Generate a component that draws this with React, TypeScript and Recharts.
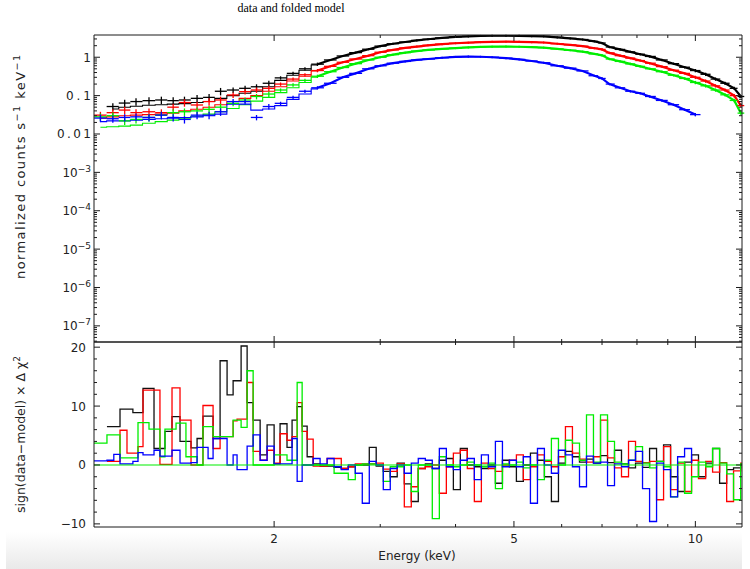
import React from 'react';
import { ComposedChart, Line, Scatter, ErrorBar, XAxis, YAxis, ReferenceLine } from 'recharts';

// ---------- layout ----------
const W = 750;
const H = 569;
const PL = 94;
const PR = 742;
const TOP_T = 35;
const MID = 342;
const BOT_B = 527;
const AXIS = '#1a1a1a';
const FONT = '"DejaVu Sans", "Liberation Sans", Arial, sans-serif';

// ---------- text ----------
const TITLE = 'data and folded model';
const X_LABEL = 'Energy (keV)';

// ---------- axes ----------
const X_DOMAIN = [1.005, 11.95];
const X_TICKS = [2, 3, 4, 5, 6, 7, 8, 9, 10];
const X_LABELED = [2, 5, 10];

const TOP_Y_DOMAIN = [3.8e-8, 3.8];
const TOP_Y_MAJOR = [1e-7, 1e-6, 1e-5, 1e-4, 1e-3, 0.01, 0.1, 1];
const TOP_Y_BASE = ['10', '10', '10', '10', '10', '0.01', '0.1', '1'];
const TOP_Y_EXP = ['\u22127', '\u22126', '\u22125', '\u22124', '\u22123', '', '', ''];
const TOP_Y_LABEL_LEN = [0, 0, 0, 0, 0, 34, 25, 0];

const RES_Y_DOMAIN = [-10.53, 20.88];
const RES_Y_TICKS = [-10, -8, -6, -4, -2, 0, 2, 4, 6, 8, 10, 12, 14, 16, 18, 20];
const RES_Y_MAJOR = [-10, 0, 10, 20];
const RES_Y_LABELS = ['\u221210', '0', '10', '20'];

// ---------- top panel: spectra (bin centres, keV) ----------
const E_TOP = [1.03, 1.08, 1.13, 1.18, 1.24, 1.30, 1.36, 1.42, 1.49, 1.56,
  1.63, 1.71, 1.79, 1.87, 1.96, 2.05, 2.15, 2.25, 2.36, 2.48,
  2.6, 2.73, 2.87, 3.0, 3.15, 3.3, 3.45, 3.6, 3.8, 4.0,
  4.2, 4.4, 4.6, 4.85, 5.1, 5.35, 5.6, 5.9, 6.2, 6.5,
  6.8, 7.0, 7.2, 7.5, 7.8, 8.1, 8.4, 8.8, 9.2, 9.6,
  10.0, 10.4, 10.8, 11.2, 11.6, 11.9];

const REL_ERR = [0.22, 0.22, 0.22, 0.22, 0.22, 0.22, 0.22, 0.22, 0.22, 0.22,
  0.22, 0.16, 0.16, 0.16, 0.16, 0.1, 0.1, 0.1, 0.1, 0.06,
  0.06, 0.06, 0.06, 0.06, 0.06, 0.06, 0.06, 0.06, 0.06, 0.06,
  0.06, 0.06, 0.06, 0.06, 0.06, 0.06, 0.06, 0.06, 0.06, 0.06,
  0.06, 0.07, 0.07, 0.07, 0.07, 0.07, 0.07, 0.07, 0.07, 0.07,
  0.1, 0.1, 0.1, 0.1, 0.1, 0.1];

const BLACK_DATA = [null, 0.052, 0.064, 0.07, 0.074, 0.077, 0.074, 0.077, 0.085, 0.09,
  0.13, 0.14, 0.155, 0.17, 0.21, 0.29, 0.38, 0.5, 0.66, 0.85,
  1.08, 1.32, 1.62, 1.95, 2.25, 2.5, 2.75, 2.95, 3.2, 3.4,
  3.5, 3.6, 3.65, 3.65, 3.62, 3.55, 3.5, 3.3, 3.1, 2.9,
  2.6, 2.35, 1.85, 1.6, 1.38, 1.2, 1.05, 0.85, 0.68, 0.55,
  0.45, 0.36, 0.27, 0.21, 0.155, 0.095];
const RED_DATA = [0.031, 0.036, 0.042, 0.036, 0.038, 0.036, 0.05, 0.066, 0.057, 0.07,
  0.077, 0.104, 0.127, 0.14, 0.155, 0.2, 0.27, 0.35, 0.45, 0.58,
  0.74, 0.9, 1.1, 1.35, 1.55, 1.75, 1.9, 2.05, 2.2, 2.32,
  2.4, 2.48, 2.52, 2.55, 2.52, 2.48, 2.42, 2.25, 2.1, 1.95,
  1.72, 1.6, 1.3, 1.1, 0.95, 0.82, 0.7, 0.57, 0.46, 0.38,
  0.3, 0.24, 0.18, 0.14, 0.1, 0.055];
const GREEN_DATA = [0.028, 0.03, 0.022, 0.024, 0.027, 0.031, 0.036, 0.038, 0.04, 0.044,
  0.05, 0.063, 0.077, 0.095, 0.11, 0.14, 0.19, 0.25, 0.32, 0.42,
  0.54, 0.68, 0.85, 1.0, 1.17, 1.32, 1.45, 1.55, 1.65, 1.73,
  1.8, 1.86, 1.89, 1.9, 1.88, 1.84, 1.78, 1.65, 1.52, 1.4,
  1.22, 1.12, 0.9, 0.78, 0.67, 0.58, 0.5, 0.42, 0.34, 0.28,
  0.22, 0.18, 0.14, 0.105, 0.075, 0.035];
const BLUE_DATA = [0.026, 0.025, 0.027, 0.028, 0.027, 0.031, 0.027, 0.024, 0.031, 0.031,
  0.038, 0.07, 0.07, 0.027, 0.052, 0.063, 0.09, 0.13, 0.16, 0.21,
  0.3, 0.38, 0.5, 0.6, 0.7, 0.78, 0.85, 0.9, 0.97, 1.02,
  1.04, 1.03, 1.0, 0.95, 0.88, 0.8, 0.72, 0.6, 0.52, 0.44,
  0.33, 0.28, 0.2, 0.16, 0.13, 0.115, 0.095, 0.075, 0.058, 0.043,
  0.032];

// folded model (visible below ~2.4 keV)
const BLACK_MODEL = [null, 0.045, 0.05, 0.053, 0.056, 0.058, 0.06, 0.062, 0.066, 0.07,
  0.085, 0.1, 0.115, 0.13, 0.17, 0.25, 0.34, 0.46, 0.63];
const RED_MODEL = [0.026, 0.028, 0.03, 0.031, 0.032, 0.033, 0.035, 0.04, 0.044, 0.05,
  0.058, 0.07, 0.085, 0.1, 0.13, 0.17, 0.24, 0.32, 0.44];
const GREEN_MODEL = [0.015, 0.0155, 0.016, 0.017, 0.019, 0.021, 0.023, 0.026, 0.029, 0.033,
  0.038, 0.046, 0.058, 0.072, 0.09, 0.12, 0.16, 0.22, 0.3];
const BLUE_MODEL = [0.021, 0.022, 0.022, 0.023, 0.024, 0.025, 0.026, 0.027, 0.028, 0.03,
  0.033, 0.06, 0.06, 0.042, 0.045, 0.055, 0.08, 0.11, 0.15];

// ---------- bottom panel: residual bins (bin start energies, keV) ----------
const RES_E_LOW = [1.005, 1.032, 1.056, 1.084, 1.110, 1.140, 1.166, 1.189, 1.212, 1.240,
  1.264, 1.293, 1.318, 1.354, 1.375, 1.396, 1.428, 1.456, 1.490, 1.524,
  1.554, 1.584, 1.627, 1.671, 1.710, 1.736, 1.763, 1.804, 1.846, 1.896,
  1.947, 2.000, 2.046, 2.101, 2.142, 2.184, 2.226, 2.269];
const RES_E_HIGH = [2.322, 2.384, 2.449, 2.515, 2.585, 2.655, 2.727, 2.801, 2.877, 2.954,
  3.035, 3.117, 3.201, 3.289, 3.378, 3.469, 3.564, 3.660, 3.760, 3.862,
  3.967, 4.074, 4.184, 4.298, 4.415, 4.535, 4.658, 4.785, 4.914, 5.047,
  5.183, 5.325, 5.470, 5.617, 5.769, 5.927, 6.087, 6.252, 6.423, 6.597,
  6.775, 6.960, 7.149, 7.342, 7.541, 7.746, 7.956, 8.172, 8.395, 8.622,
  8.856, 9.096, 9.344, 9.596, 9.856, 10.12, 10.40, 10.68, 10.97, 11.27,
  11.57, 11.89, 11.95];

const BLACK_RES_LOW = [null, null, 6.5, 6.5, 9.5, 9.5, 8.9, 8.9, 13.0, 13.0,
  2.8, 2.8, 5.7, 8.2, 8.2, 4.0, 4.0, 2.9, 4.5, 8.3,
  8.3, 4.5, 17.7, 11.9, 14.3, 14.3, 20.2, 10.6, 7.6, 1.7,
  6.8, 0.2, 7.0, 3.0, 7.6, 9.9, 6.6, 1.4];
const BLACK_RES_HIGH = [0.2, -0.2, -0.2, -0.4, -0.6, -0.3, 0, 0, 3.0, -0.2,
  -1.1, -2.0, 0.3, -3.2, -6.2, -0.6, 0.2, -0.6, 0.8, 1.1,
  -4.2, 2.8, 0, -0.3, -0.6, 0, -3.1, 0.8, -0.3, -2.8,
  0, 2.0, 0.8, -2.0, -6.2, 0.3, 2.3, 1.4, 0.5, 1.0,
  0.3, 1.6, 0.4, 2.5, 0.2, -0.5, 0.3, -0.4, 2.8, 0.6,
  3.4, -2.0, -4.5, 0.5, 1.7, -2.0, 0.3, 2.8, -3.1, -0.8,
  -0.5, 0.2, 0.2];

const RED_RES_LOW = [null, null, 0.6, 0.6, 5.9, 2.0, 2.0, 3.1, 12.7, 12.7,
  12.7, 0.1, 0.1, 13.1, 13.1, 7.6, 7.6, 0, 0, 10.1,
  10.1, 2.8, 4.8, 4.8, 7.5, 7.8, 7.8, 14.0, 2.3, 0.8,
  2.5, 0.3, 5.3, 4.2, 4.8, 10.6, 5.7, 4.4];
const RED_RES_HIGH = [-0.2, -0.2, 1.1, 1.1, -0.6, -0.3, 0.2, 0.2, 0.2, 0.3,
  -0.7, -1.1, 0.2, -7.1, -3.7, -0.6, -0.3, 0, -4.8, -0.3,
  2.0, 2.5, -0.6, -6.2, 0.3, -0.6, -1.1, 0, 0.8, 1.7,
  -2.5, -0.3, 1.7, 0.6, -0.3, 1.4, 6.5, 2.0, 1.0, 0.5,
  1.4, 7.6, 1.2, -0.5, -2.0, 4.0, 0.6, 0.4, 0.6, -5.9,
  3.1, -4.2, 0.3, -4.5, 0.8, -2.3, 0.6, -1.2, 0.4, -6.2,
  -1.0, 0.3, 0.3];

const GREEN_RES_LOW = [3.7, 3.7, 5.1, 5.1, 1.2, 1.2, 1.2, 7.2, 7.2, 6.1,
  6.1, 1.4, 6.1, 6.1, 7.1, 7.1, 1.4, 1.4, 0, 6.5,
  6.5, 4.8, 4.8, 4.8, 7.6, 7.6, 6.4, 16.0, 0, 0,
  0, 1.7, 1.7, 0.8, 0.8, 14.0, 0, 0];
const GREEN_RES_HIGH = [0, 0, 0, -1.4, -1.4, -2.5, 0, 0.2, 0.2, 0,
  -2.8, -0.3, -0.3, 0, -4.5, 0, 0, -9.1, 1.4, 0,
  -0.3, 0, 0.5, 0, -0.3, 0.3, -4.0, 0.2, 0, 0.5,
  -0.5, 0, -2.5, 0.8, 4.5, 0, 4.2, 3.7, 0.8, 8.5,
  0.5, 8.5, 4.0, 0.5, 0.2, 0.8, 3.1, 0.3, -0.5, 0.6,
  -0.3, -5.4, 0.5, -4.8, -2.0, 0.5, -0.3, 2.8, 0.3, -1.5,
  -5.9, 0.2, 0.2];

const BLUE_RES_LOW = [0.7, 0.7, 0.8, 1.8, 0.2, 0.2, 0.6, 2.1, 1.7, 1.7,
  2.5, 1.5, 1.5, 2.5, 2.5, 0.3, 0.3, 0.4, 3.0, 3.0,
  1.1, 4.5, 4.5, 0, 1.7, -0.8, -0.8, 3.2, 5.1, 0.8,
  3.2, 0.2, 0.2, 0.2, 4.5, -2.8, 0, 0];
const BLUE_RES_HIGH = [1.1, 0.2, 1.1, -0.3, -0.8, 0, -1.4, -6.5, 0.6, 0,
  -4.2, -0.6, 0, -1.4, 0.3, 1.1, 0.8, -0.6, 2.8, -0.3,
  -0.8, 0.8, 1.1, -2.5, 1.7, -0.3, 4.0, -0.3, 0.8, -0.3,
  1.4, -6.5, 2.8, 0, -1.4, 2.5, 1.7, -0.3, -3.7, 1.5,
  0.3, 0.5, -3.5, 0.2, -0.3, 0.8, 2.3, -4.0, -9.6, 0.3,
  -0.8, -5.4, 1.4, 2.8, 0.3, null, null, null, null, null,
  null, null, null];

const COLORS = { k: '#000000', r: '#ff0000', g: '#00ee00', b: '#0000ff' };
const DENSE_FROM = 18; // index in E_TOP above which bins are packed into a band

// ---------- derived tables ----------
function binEdges(i: number): [number, number] {
  const e = E_TOP;
  const lo = i > 0 ? Math.sqrt(e[i - 1] * e[i]) : e[0] / Math.sqrt(e[1] / e[0]);
  const hi = i < e.length - 1 ? Math.sqrt(e[i] * e[i + 1]) : e[i] * Math.sqrt(e[i] / e[i - 1]);
  return [lo, hi];
}

function spectrum(vals: (number | null)[]) {
  const out: any[] = [];
  vals.forEach((v, i) => {
    if (v == null) return;
    const e = E_TOP[i];
    const [lo, hi] = binEdges(i);
    out.push({ e, y: v, ex: [e - lo, hi - e], ey: [v * REL_ERR[i], v * REL_ERR[i]] });
  });
  return out;
}

function denseBand(vals: (number | null)[]) {
  return E_TOP.map((e, i) => ({ e, y: i >= DENSE_FROM && vals[i] != null ? vals[i] : null }));
}

function model(vals: (number | null)[]) {
  return vals.map((m, i) => ({ e: E_TOP[i], m }));
}

const RES_E = [...RES_E_LOW, ...RES_E_HIGH];
const RES_K = [...BLACK_RES_LOW, ...BLACK_RES_HIGH];
const RES_R = [...RED_RES_LOW, ...RED_RES_HIGH];
const RES_G = [...GREEN_RES_LOW, ...GREEN_RES_HIGH];
const RES_B = [...BLUE_RES_LOW, ...BLUE_RES_HIGH];
const RES_ROWS = RES_E.map((e, i) => ({ e, k: RES_K[i], r: RES_R[i], g: RES_G[i], b: RES_B[i] }));

const TOP_Y_MINOR: number[] = [];
for (let p = -8; p <= 0; p++) {
  for (let m = 2; m <= 9; m++) {
    const v = m * Math.pow(10, p);
    if (v > TOP_Y_DOMAIN[0] && v < TOP_Y_DOMAIN[1]) TOP_Y_MINOR.push(v);
  }
}
const TOP_Y_TICKS = [...TOP_Y_MAJOR, ...TOP_Y_MINOR].sort((a, b) => a - b);

const near = (a: number, b: number) => Math.abs(a - b) <= Math.abs(b) * 1e-6;

// ---------- tick renderers ----------
function xTick(edgeY: number, dir: number, labelY: number | null) {
  return (props: any) => {
    const { x, payload } = props;
    const v = payload.value;
    const major = X_LABELED.includes(v);
    const len = major ? 6 : 3;
    return (
      <g>
        <line x1={x} x2={x} y1={edgeY} y2={edgeY + dir * len} stroke={AXIS} strokeWidth={1} />
        {labelY !== null && major ? (
          <text x={x} y={labelY} textAnchor="middle" fontFamily={FONT} fontSize={12} fill="#222">
            {String(v)}
          </text>
        ) : null}
      </g>
    );
  };
}

function topYTick(edgeX: number, dir: number, withLabel: boolean) {
  return (props: any) => {
    const { y, payload } = props;
    const v = payload.value;
    const idx = TOP_Y_MAJOR.findIndex((m) => near(v, m));
    const len = idx >= 0 ? 6 : 3;
    const tl = idx >= 0 && TOP_Y_LABEL_LEN[idx] ? { textLength: TOP_Y_LABEL_LEN[idx], lengthAdjust: 'spacing' } : {};
    return (
      <g>
        <line x1={edgeX} x2={edgeX + dir * len} y1={y} y2={y} stroke={AXIS} strokeWidth={1} />
        {withLabel && idx >= 0 ? (
          <text x={91} y={y + 4.5} textAnchor="end" fontFamily={FONT} fontSize={12} fill="#222" {...tl}>
            {TOP_Y_BASE[idx]}
            {TOP_Y_EXP[idx] ? (
              <tspan dy={-5} fontSize={9}>{TOP_Y_EXP[idx]}</tspan>
            ) : null}
          </text>
        ) : null}
      </g>
    );
  };
}

function resYTick(edgeX: number, dir: number, withLabel: boolean) {
  return (props: any) => {
    const { y, payload } = props;
    const v = payload.value;
    const idx = RES_Y_MAJOR.indexOf(v);
    const len = idx >= 0 ? 6 : 3;
    return (
      <g>
        <line x1={edgeX} x2={edgeX + dir * len} y1={y} y2={y} stroke={AXIS} strokeWidth={1} />
        {withLabel && idx >= 0 ? (
          <text x={86} y={y + 4.5} textAnchor="end" fontFamily={FONT} fontSize={12} fill="#222">
            {RES_Y_LABELS[idx]}
          </text>
        ) : null}
      </g>
    );
  };
}

const axisLine = { stroke: AXIS, strokeWidth: 1 };
const noMark = () => <g />;

export default function App() {
  const specs = [
    { c: COLORS.k, d: BLACK_DATA, m: BLACK_MODEL },
    { c: COLORS.r, d: RED_DATA, m: RED_MODEL },
    { c: COLORS.g, d: GREEN_DATA, m: GREEN_MODEL },
    { c: COLORS.b, d: BLUE_DATA, m: BLUE_MODEL },
  ];
  return (
    <div style={{ position: 'absolute', left: 0, top: 0, width: W, height: H, background: '#fff', overflow: 'hidden' }}>
      <svg width={W} height={H} style={{ position: 'absolute', left: 0, top: 0 }}>
        <defs>
          <linearGradient id="floor" x1="0" y1="0" x2="0" y2="1">
            <stop offset="0" stopColor="#ffffff" />
            <stop offset="1" stopColor="#e9e9e9" />
          </linearGradient>
        </defs>
        <rect x={6} y={532} width={736} height={37} fill="url(#floor)" />
        <text x={291} y={12} textAnchor="middle" fontFamily='"Liberation Serif", "DejaVu Serif", serif' fontSize={12} fill="#000">
          {TITLE}
        </text>
        <text x={417} y={560} textAnchor="middle" fontFamily={FONT} fontSize={12} fill="#222">
          {X_LABEL}
        </text>
        <text x={25} y={279} transform="rotate(-90 25 279)" fontFamily={FONT} fontSize={13} fill="#222"
          textLength={224} lengthAdjust="spacing">
          normalized counts s
          <tspan dy={-5} fontSize={9.5}>{'\u22121'}</tspan>
          <tspan dy={5} dx={6}>keV</tspan>
          <tspan dy={-5} fontSize={9.5}>{'\u22121'}</tspan>
        </text>
        <text x={25} y={513} transform="rotate(-90 25 513)" fontFamily={FONT} fontSize={12.5} fill="#222">
          {'sign(data\u2212model) \u00d7 \u0394 \u03c7'}
          <tspan dy={-5} fontSize={9}>2</tspan>
        </text>
      </svg>

      <div style={{ position: 'absolute', left: 0, top: 0 }}>
        <ComposedChart width={W} height={H} margin={{ top: TOP_T - 1, right: W - PR - 1, bottom: H - MID - 1, left: PL - 1 }}>
          <XAxis dataKey="e" type="number" scale="log" domain={X_DOMAIN} allowDataOverflow ticks={X_TICKS} interval={0}
            height={1} tickLine={false} axisLine={axisLine} tick={xTick(MID, -1, null)} />
          <XAxis xAxisId="top" orientation="top" dataKey="e" type="number" scale="log" domain={X_DOMAIN} allowDataOverflow
            ticks={X_TICKS} interval={0} height={1} tickLine={false} axisLine={axisLine} tick={xTick(TOP_T, 1, null)} />
          <YAxis type="number" scale="log" domain={TOP_Y_DOMAIN} allowDataOverflow ticks={TOP_Y_TICKS} interval={0}
            width={1} tickLine={false} axisLine={axisLine} tick={topYTick(PL, 1, true)} />
          <YAxis yAxisId="right" orientation="right" type="number" scale="log" domain={TOP_Y_DOMAIN} allowDataOverflow
            ticks={TOP_Y_TICKS} interval={0} width={1} tickLine={false} axisLine={axisLine} tick={topYTick(PR, -1, false)} />
          {specs.map((s, i) => (
            <Line key={'m' + i} data={model(s.m)} dataKey="m" type="step" stroke={s.c} strokeWidth={1.1}
              dot={false} isAnimationActive={false} connectNulls={false} />
          ))}
          {specs.map((s, i) => (
            <Line key={'band' + i} data={denseBand(s.d)} dataKey="y" type="linear" stroke={s.c} strokeWidth={2.2}
              dot={false} isAnimationActive={false} connectNulls={false} />
          ))}
          {specs.map((s, i) => (
            <Scatter key={'d' + i} data={spectrum(s.d)} dataKey="y" shape={noMark} isAnimationActive={false}>
              <ErrorBar dataKey="ex" direction="x" width={0} stroke={s.c} strokeWidth={1.3} isAnimationActive={false} />
              <ErrorBar dataKey="ey" direction="y" width={0} stroke={s.c} strokeWidth={1.3} isAnimationActive={false} />
            </Scatter>
          ))}
        </ComposedChart>
      </div>

      <div style={{ position: 'absolute', left: 0, top: 0 }}>
        <ComposedChart width={W} height={H} margin={{ top: MID - 1, right: W - PR - 1, bottom: H - BOT_B - 1, left: PL - 1 }}>
          <XAxis dataKey="e" type="number" scale="log" domain={X_DOMAIN} allowDataOverflow ticks={X_TICKS} interval={0}
            height={1} tickLine={false} axisLine={axisLine} tick={xTick(BOT_B, -1, 543)} />
          <XAxis xAxisId="top" orientation="top" dataKey="e" type="number" scale="log" domain={X_DOMAIN} allowDataOverflow
            ticks={X_TICKS} interval={0} height={1} tickLine={false} axisLine={axisLine} tick={xTick(MID, 1, null)} />
          <YAxis type="number" domain={RES_Y_DOMAIN} allowDataOverflow ticks={RES_Y_TICKS} interval={0}
            width={1} tickLine={false} axisLine={axisLine} tick={resYTick(PL, 1, true)} />
          <YAxis yAxisId="right" orientation="right" type="number" domain={RES_Y_DOMAIN} allowDataOverflow
            ticks={RES_Y_TICKS} interval={0} width={1} tickLine={false} axisLine={axisLine} tick={resYTick(PR, -1, false)} />
          <Line data={RES_ROWS} dataKey="k" type="stepAfter" stroke="#111" strokeWidth={1.3} dot={false} isAnimationActive={false} connectNulls={false} />
          <Line data={RES_ROWS} dataKey="r" type="stepAfter" stroke={COLORS.r} strokeWidth={1.3} dot={false} isAnimationActive={false} connectNulls={false} />
          <Line data={RES_ROWS} dataKey="g" type="stepAfter" stroke={COLORS.g} strokeWidth={1.3} dot={false} isAnimationActive={false} connectNulls={false} />
          <Line data={RES_ROWS} dataKey="b" type="stepAfter" stroke={COLORS.b} strokeWidth={1.3} dot={false} isAnimationActive={false} connectNulls={false} />
          <ReferenceLine y={0} stroke={COLORS.g} strokeWidth={1.2} />
        </ComposedChart>
      </div>
    </div>
  );
}
